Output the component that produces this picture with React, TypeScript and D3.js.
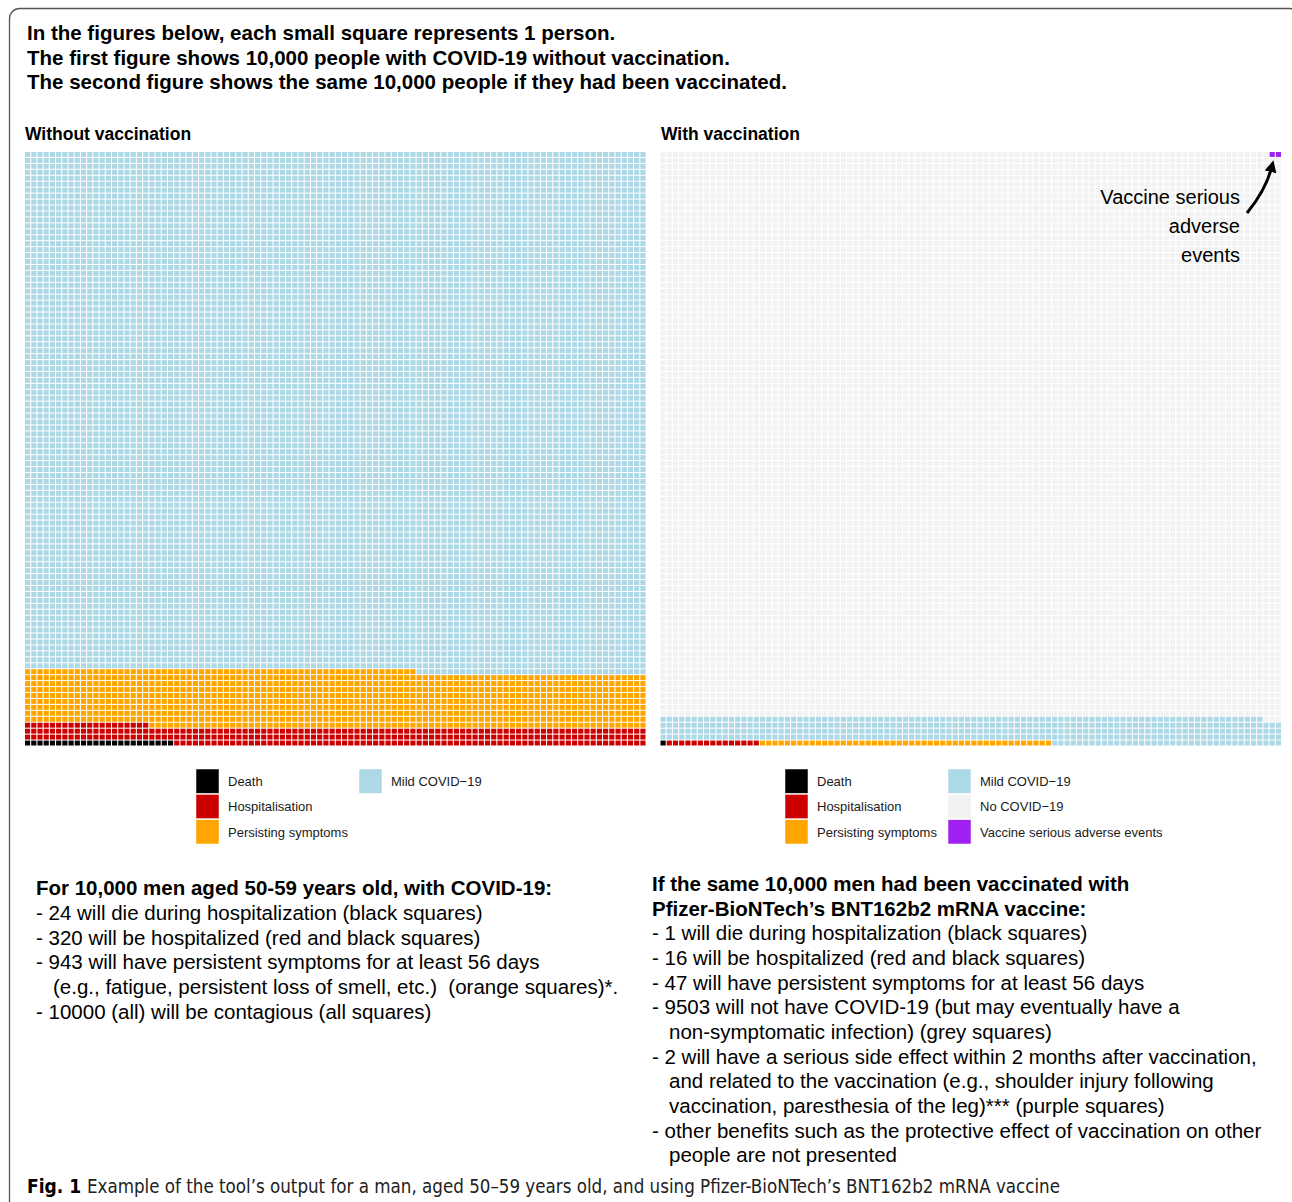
import React from 'react';
import * as d3 from 'd3';

// categories and colours
const categories = ['Death', 'Hospitalisation', 'Persisting symptoms', 'Mild COVID\u221219', 'No COVID\u221219', 'Vaccine serious adverse events'];
const colors = ['#000000', '#CC0000', '#FFA500', '#ADD8E6', '#F2F2F2', '#A020F0'];

// counts per panel (same order as categories)
const countsWithout = [24, 296, 943, 8737, 0, 0];
const countsWith = [1, 15, 47, 434, 9501, 2];

const headerLines = [
  'In the figures below, each small square represents 1 person.',
  'The first figure shows 10,000 people with COVID-19 without vaccination.',
  'The second figure shows the same 10,000 people if they had been vaccinated.',
];

const leftTitle = ['For 10,000 men aged 50-59 years old, with COVID-19:'];
const leftLines = [
  '- 24 will die during hospitalization (black squares)',
  '- 320 will be hospitalized (red and black squares)',
  '- 943 will have persistent symptoms for at least 56 days',
  '  (e.g., fatigue, persistent loss of smell, etc.)  (orange squares)*.',
  '- 10000 (all) will be contagious (all squares)',
];

const rightTitle = ['If the same 10,000 men had been vaccinated with', 'Pfizer-BioNTech\u2019s BNT162b2 mRNA vaccine:'];
const rightLines = [
  '- 1 will die during hospitalization (black squares)',
  '- 16 will be hospitalized (red and black squares)',
  '- 47 will have persistent symptoms for at least 56 days',
  '- 9503 will not have COVID-19 (but may eventually have a',
  '  non-symptomatic infection) (grey squares)',
  '- 2 will have a serious side effect within 2 months after vaccination,',
  '  and related to the vaccination (e.g., shoulder injury following',
  '  vaccination, paresthesia of the leg)*** (purple squares)',
  '- other benefits such as the protective effect of vaccination on other',
  '  people are not presented',
];

const legendLeft = [0, 1, 2, 3];
const legendRight = [0, 1, 2, 3, 4, 5];

const SANS = '"Liberation Sans", Arial, Helvetica, sans-serif';

function Waffle({ counts, x0, x1, y0, y1 }) {
  const idx = d3.range(100);
  const x = d3.scaleBand().domain(idx).range([x0, x1]).paddingInner(0.17);
  const y = d3.scaleBand().domain(idx).range([y1, y0]).paddingInner(0.17);
  const cum = d3.cumsum(counts);
  const cells = d3.range(10000).map((i) => ({
    col: i % 100,
    row: Math.floor(i / 100),
    cat: d3.bisectRight(cum, i),
  }));
  return (
    <g>
      {cells.map((c, i) => (
        <rect
          key={i}
          x={x(c.col)}
          y={y(c.row)}
          width={x.bandwidth()}
          height={y.bandwidth()}
          fill={colors[c.cat]}
        />
      ))}
    </g>
  );
}

function Legend({ items, x, y }) {
  const rows = d3.scaleBand().domain([0, 1, 2]).range([y, y + 75]).paddingInner(0.04);
  return (
    <g>
      {items.map((k, i) => {
        const col = Math.floor(i / 3);
        const r = i % 3;
        const sx = x + col * 163;
        return (
          <g key={k}>
            <rect x={sx} y={rows(r)} width={23} height={rows.bandwidth()} fill={colors[k]} stroke="#fff" strokeWidth={0.5} />
            <text x={sx + 32} y={rows(r) + 17} fontFamily={SANS} fontSize={13} fill="#1a1a1a">
              {categories[k]}
            </text>
          </g>
        );
      })}
    </g>
  );
}

function TextBlock({ title, lines, x, y, step }) {
  return (
    <g fontFamily={SANS} fontSize={20.5} fill="#000">
      {title.map((t, i) => (
        <text key={'t' + i} x={x} y={y + i * step} fontWeight="bold">{t}</text>
      ))}
      {lines.map((t, i) => (
        <text key={i} xmlSpace="preserve" style={{ whiteSpace: 'pre' }}
          x={t.startsWith(' ') ? x + 17 : x} y={y + (title.length + i) * step}>
          {t.trim()}
        </text>
      ))}
    </g>
  );
}

export default function App() {
  const arrow = d3.path();
  arrow.moveTo(1247, 213);
  arrow.quadraticCurveTo(1266, 190, 1272, 166);

  return (
    <svg width={1292} height={1202} style={{ position: 'absolute', left: 0, top: 0 }}>
      <defs>
        <marker id="ah" viewBox="0 0 10 10" refX="5" refY="5" markerWidth="4" markerHeight="4" orient="auto">
          <path d="M0,0 L10,5 L0,10 z" fill="#000" />
        </marker>
      </defs>
      <rect x={0} y={0} width={1292} height={1202} fill="#fff" />
      <rect x={9.5} y={8.5} width={1290} height={1260} rx={10} fill="none" stroke="#555" strokeWidth={1.3} />

      <g fontFamily={SANS} fontSize={20.5} fontWeight="bold">
        {headerLines.map((t, i) => (
          <text key={i} x={27} y={40 + i * 24.5}>{t}</text>
        ))}
      </g>

      <text x={25} y={140} fontFamily={SANS} fontSize={17.5} fontWeight="bold">Without vaccination</text>
      <text x={661} y={140} fontFamily={SANS} fontSize={17.5} fontWeight="bold">With vaccination</text>

      <Waffle counts={countsWithout} x0={25} x1={645.5} y0={152} y1={745.5} />
      <Waffle counts={countsWith} x0={660.5} x1={1281} y0={152} y1={745.5} />

      <g fontFamily={SANS} fontSize={20} textAnchor="end" fill="#000">
        <text x={1240} y={204}>Vaccine serious</text>
        <text x={1240} y={233}>adverse</text>
        <text x={1240} y={262}>events</text>
      </g>
      <path d={arrow.toString()} fill="none" stroke="#000" strokeWidth={3} markerEnd="url(#ah)" />

      <Legend items={legendLeft} x={196} y={769} />
      <Legend items={legendRight} x={785} y={769} />

      <TextBlock title={leftTitle} lines={leftLines} x={36} y={895} step={24.8} />
      <TextBlock title={rightTitle} lines={rightLines} x={652} y={891} step={24.65} />

      <g fontFamily={'"Liberation Sans Narrow", "DejaVu Sans Condensed", sans-serif'} fontSize={19}>
        <text x={27} y={1193} fontWeight="bold" fill="#000">Fig. 1</text>
        <text x={87} y={1193} fill="#222" textLength={973} lengthAdjust="spacingAndGlyphs">
          Example of the tool’s output for a man, aged 50–59 years old, and using Pfizer-BioNTech’s BNT162b2 mRNA vaccine
        </text>
      </g>
    </svg>
  );
}
